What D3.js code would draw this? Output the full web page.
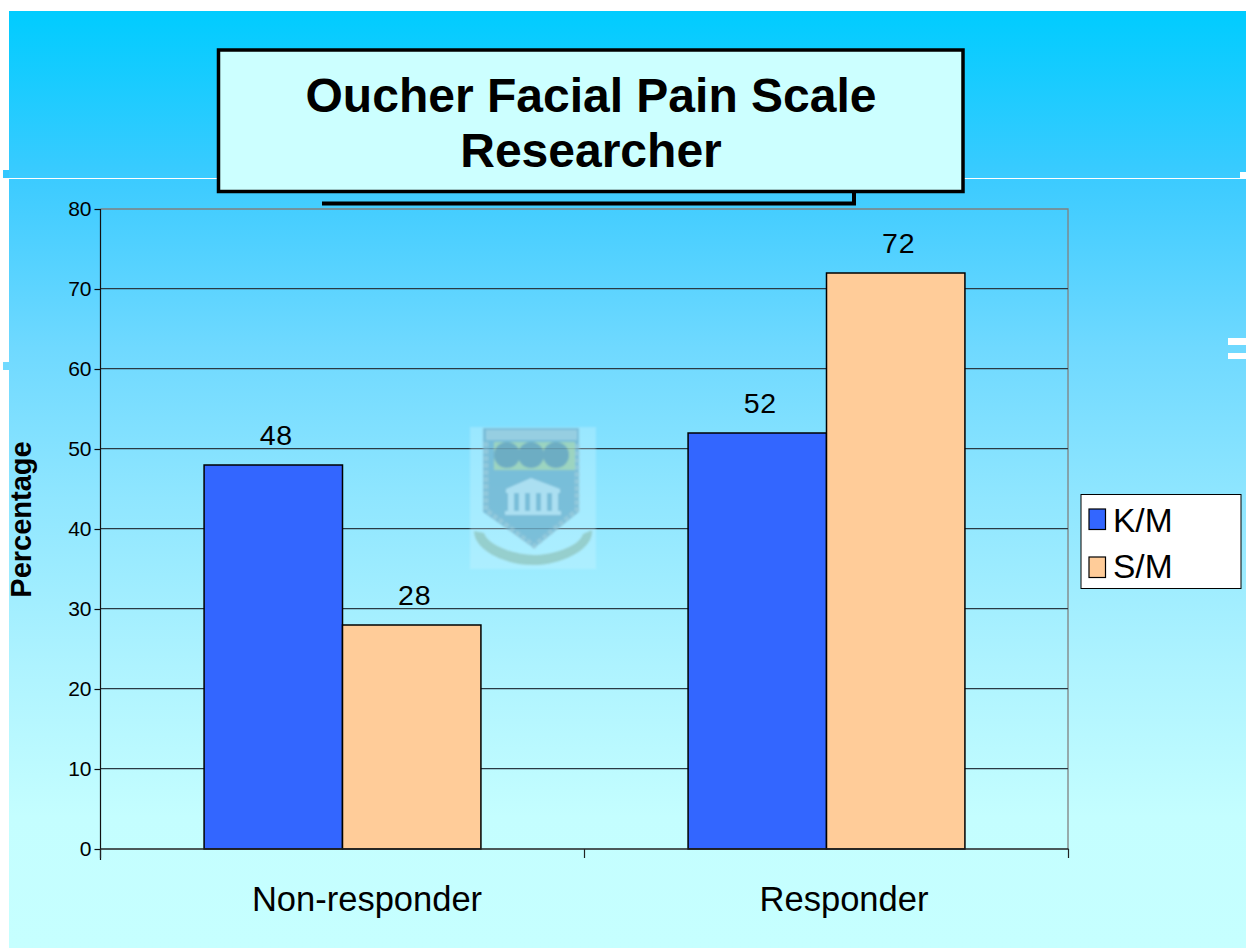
<!DOCTYPE html>
<html><head><meta charset="utf-8">
<script src="https://cdn.jsdelivr.net/npm/d3@7/dist/d3.min.js"></script>
<style>html,body{margin:0;padding:0;background:#fff}svg{display:block}text{font-family:"Liberation Sans",Arial,sans-serif;fill:#000}</style>
</head><body><div id="c"></div>
<script>
const titleLines = ["Oucher Facial Pain Scale", "Researcher"];
const categories = ["Non-responder", "Responder"];
const seriesNames = ["K/M", "S/M"];
const kmValues = [48, 52];
const smValues = [28, 72];
const seriesColors = ["#3366FF", "#FFCC99"];
const yTicks = [0,10,20,30,40,50,60,70,80];
const yLabel = "Percentage";

const W=1251,H=948;
const svg=d3.select("#c").append("svg").attr("width",W).attr("height",H);
const defs=svg.append("defs");
const g=defs.append("linearGradient").attr("id","bg").attr("x1",0).attr("y1",0).attr("x2",0).attr("y2",1);
[[0,"#00CCFF"],[.18,"#3CCBFF"],[.36,"#6FD9FF"],[.52,"#8FE6FF"],[.70,"#AEF3FF"],[.86,"#C4FEFF"],[1,"#C6FFFF"]]
  .forEach(s=>g.append("stop").attr("offset",s[0]).attr("stop-color",s[1]));
defs.append("filter").attr("id","soft").append("feGaussianBlur").attr("stdDeviation",.9);

// slide background and its decorations
svg.append("rect").attr("x",9).attr("y",11).attr("width",1237).attr("height",937).attr("fill","url(#bg)");
svg.append("rect").attr("x",3).attr("y",170).attr("width",6).attr("height",8).attr("fill","#33C8FF");
svg.append("rect").attr("x",3).attr("y",362).attr("width",6).attr("height",8).attr("fill","#70DAFF");
svg.append("rect").attr("x",9).attr("y",178).attr("width",1237).attr("height",1).attr("fill","#fff");
svg.append("rect").attr("x",1240).attr("y",172).attr("width",6).attr("height",6).attr("fill","#fff");
svg.append("rect").attr("x",1228).attr("y",338).attr("width",18).attr("height",7).attr("fill","#fff");
svg.append("rect").attr("x",1228).attr("y",353).attr("width",18).attr("height",6).attr("fill","#fff");

// scales
const x0=d3.scaleBand().domain(categories).range([100.5,1068.5]).paddingInner(.428).paddingOuter(.214);
const x1=d3.scaleBand().domain(seriesNames).range([0,x0.bandwidth()]);
const y=d3.scaleLinear().domain([0,80]).range([849,209]);
const color=d3.scaleOrdinal().domain(seriesNames).range(seriesColors);

// plot frame + gridlines
svg.append("path").attr("d",`M100.5 209H1068V849`).attr("fill","none").attr("stroke","#808080").attr("stroke-width",1.3);
svg.append("g").selectAll("line").data(yTicks.filter(d=>d>0&&d<80)).join("line")
  .attr("x1",100.5).attr("x2",1068).attr("y1",d=>y(d)-.3).attr("y2",d=>y(d)-.3)
  .attr("stroke","#2a3a44").attr("stroke-width",1.3);

// crest watermark
const em=svg.append("g").attr("filter","url(#soft)").attr("opacity",.88);
em.append("rect").attr("x",470).attr("y",427).attr("width",126).attr("height",142).attr("fill","#d4f6ff").attr("opacity",.35);
em.append("path").attr("d","M483 428H579V512L534 548L483 512Z").attr("fill","#6fafcb").attr("opacity",.85);
em.append("path").attr("d","M486 430H577V440H486Z").attr("fill","#a6d2e0").attr("opacity",.75);
em.append("path").attr("d","M486 442V510L534 546L577 510V442").attr("fill","none").attr("stroke","#98c8d8").attr("stroke-width",5).attr("stroke-dasharray","5 2").attr("opacity",.8);
em.append("rect").attr("x",494).attr("y",442).attr("width",81).attr("height",28).attr("fill","#a4d6b6").attr("opacity",.9);
em.selectAll("circle.s").data([507,531,556]).join("circle").attr("cx",d=>d).attr("cy",455).attr("r",13).attr("fill","#6ba6bb");
em.append("path").attr("d","M506 489L531 478L560 489V493H506Z").attr("fill","#b0dff0");
em.selectAll("rect.c").data([508,519,530,541,552]).join("rect").attr("x",d=>d).attr("y",493).attr("width",6).attr("height",19).attr("fill","#b0dff0");
em.append("rect").attr("x",505).attr("y",511).attr("width",56).attr("height",4).attr("fill","#b0dff0");
em.append("path").attr("d","M474 531C474 552 510 566 534 565C560 565 594 550 592 530L583 534C578 548 550 555 534 555C516 555 488 546 484 533Z").attr("fill","#90c4bc").attr("opacity",.85);

// bars
const series=[kmValues,smValues];
seriesNames.forEach((s,i)=>{
  const rows=categories.map((c,j)=>({c,v:series[i][j]}));
  svg.append("g").selectAll("rect").data(rows).join("rect")
    .attr("x",d=>x0(d.c)+x1(s)).attr("width",x1.bandwidth())
    .attr("y",d=>y(d.v)).attr("height",d=>y(0)-y(d.v))
    .attr("fill",color(s)).attr("stroke","#000").attr("stroke-width",1.5);
  svg.append("g").selectAll("text").data(rows).join("text")
    .attr("x",d=>x0(d.c)+x1(s)+x1.bandwidth()/2+3).attr("y",d=>y(d.v)-20)
    .attr("text-anchor","middle").attr("font-size",28.5).style("letter-spacing","0.8px").text(d=>d.v);
});

// y axis
const ya=svg.append("g").attr("transform","translate(100.5,0)").call(d3.axisLeft(y).tickValues(yTicks).tickSize(6).tickPadding(3));
ya.select(".domain").attr("d","M0 209V860").attr("stroke","#111").attr("stroke-width",1.2);
ya.selectAll("line").attr("stroke","#111").attr("stroke-width",1.2);
ya.selectAll("text").attr("font-size",21).style("font-family",'"Liberation Sans"').attr("fill","#000");

// x axis
const base=svg.append("g");
base.append("line").attr("x1",100.5).attr("x2",1068.5).attr("y1",y(0)).attr("y2",y(0)).attr("stroke","#222").attr("stroke-width",1.4);
base.selectAll("line.t").data([0,1,2]).join("line").attr("class","t")
  .attr("x1",d=>100.5+d*x0.step()).attr("x2",d=>100.5+d*x0.step()).attr("y1",849).attr("y2",858)
  .attr("stroke","#222").attr("stroke-width",1.2);
const xLabelCenters=[367,844];
svg.append("g").selectAll("text").data(categories).join("text")
  .attr("x",(d,i)=>xLabelCenters[i]).attr("y",910.5).attr("text-anchor","middle").attr("font-size",34.5).text(d=>d);

svg.append("text").attr("transform","translate(31,519.5) rotate(-90)").attr("text-anchor","middle")
  .attr("font-size",29).attr("font-weight","bold").text(yLabel);

// legend
svg.append("rect").attr("x",1081).attr("y",494.5).attr("width",160).attr("height",94).attr("fill","#fff").attr("stroke","#000").attr("stroke-width",1);
seriesNames.forEach((s,i)=>{
  svg.append("rect").attr("x",1089).attr("y",509+i*48).attr("width",16.5).attr("height",20.5).attr("fill",color(s)).attr("stroke","#000").attr("stroke-width",1.2);
  svg.append("text").attr("x",1113).attr("y",532+i*46).attr("font-size",33.5).text(s);
});

// title box
svg.append("path").attr("d","M322 203.5H854V190").attr("fill","none").attr("stroke","#000").attr("stroke-width",4);
svg.append("rect").attr("x",218.5).attr("y",50).attr("width",744.5).attr("height",141.5).attr("fill","#CCFFFF").attr("stroke","#000").attr("stroke-width",3.5);
svg.append("g").selectAll("text").data(titleLines).join("text")
  .attr("x",591).attr("y",(d,i)=>112+i*55).attr("text-anchor","middle").attr("font-size",48).attr("font-weight","bold").text(d=>d);
</script></body></html>
